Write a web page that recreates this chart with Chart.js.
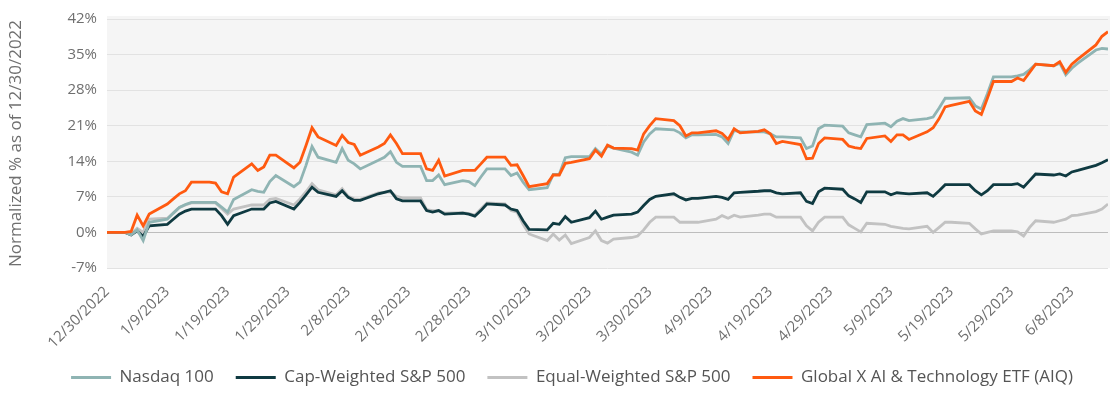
<!DOCTYPE html>
<html>
<head>
<meta charset="utf-8">
<script src="https://cdn.jsdelivr.net/npm/chart.js@4.4.1/dist/chart.umd.min.js"></script>
<style>
  html, body { margin: 0; padding: 0; background: #ffffff; }
  #wrap { width: 1113px; height: 402px; }
</style>
</head>
<body>
<div id="wrap"><canvas id="perf-chart" width="1113" height="402"></canvas></div>
<script>
// ================================================================
// Data: weekdays where the lines turn (holidays carry the prior close)
// ================================================================
const dates = [
    '12/30/2022', '1/2/2023', '1/3/2023', '1/4/2023', '1/5/2023', '1/6/2023',
    '1/9/2023', '1/10/2023', '1/11/2023', '1/12/2023', '1/13/2023',
    '1/16/2023', '1/17/2023', '1/18/2023', '1/19/2023', '1/20/2023',
    '1/23/2023', '1/24/2023', '1/25/2023', '1/26/2023', '1/27/2023',
    '1/30/2023', '1/31/2023', '2/1/2023', '2/2/2023', '2/3/2023',
    '2/6/2023', '2/7/2023', '2/8/2023', '2/9/2023', '2/10/2023',
    '2/13/2023', '2/14/2023', '2/15/2023', '2/16/2023', '2/17/2023',
    '2/20/2023', '2/21/2023', '2/22/2023', '2/23/2023', '2/24/2023',
    '2/27/2023', '2/28/2023', '3/1/2023', '3/2/2023', '3/3/2023',
    '3/6/2023', '3/7/2023', '3/8/2023', '3/9/2023', '3/10/2023',
    '3/13/2023', '3/14/2023', '3/15/2023', '3/16/2023', '3/17/2023',
    '3/20/2023', '3/21/2023', '3/22/2023', '3/23/2023', '3/24/2023',
    '3/27/2023', '3/28/2023', '3/29/2023', '3/30/2023', '3/31/2023',
    '4/3/2023', '4/4/2023', '4/5/2023', '4/6/2023', '4/7/2023',
    '4/10/2023', '4/11/2023', '4/12/2023', '4/13/2023', '4/14/2023',
    '4/17/2023', '4/18/2023', '4/19/2023', '4/20/2023', '4/21/2023',
    '4/24/2023', '4/25/2023', '4/26/2023', '4/27/2023', '4/28/2023',
    '5/1/2023', '5/2/2023', '5/3/2023', '5/4/2023', '5/5/2023',
    '5/8/2023', '5/9/2023', '5/10/2023', '5/11/2023', '5/12/2023',
    '5/15/2023', '5/16/2023', '5/17/2023', '5/18/2023', '5/19/2023',
    '5/22/2023', '5/23/2023', '5/24/2023', '5/25/2023', '5/26/2023',
    '5/29/2023', '5/30/2023', '5/31/2023', '6/1/2023', '6/2/2023',
    '6/5/2023', '6/6/2023', '6/7/2023', '6/8/2023', '6/9/2023',
    '6/12/2023', '6/13/2023', '6/14/2023'
];

const nasdaq100 = [
    0, 0, -0.5, 0.5, -1.6, 2.0,
    2.6, 3.8, 4.9, 5.5, 5.9,
    5.9, 5.9, 5.0, 4.0, 6.5,
    8.4, 8.1, 7.9, 10.0, 11.2,
    9.0, 9.9, 13.2, 16.9, 14.8,
    13.8, 16.5, 14.2, 13.5, 12.5,
    14.2, 14.8, 15.9, 13.8, 13.0,
    13.0, 10.2, 10.2, 11.3, 9.4,
    10.2, 10.0, 9.2, 10.9, 12.5,
    12.5, 11.2, 11.7, 9.9, 8.4,
    8.8, 11.4, 11.4, 14.7, 14.9,
    14.9, 16.5, 15.4, 17.0, 16.6,
    15.8, 15.2, 17.8, 19.4, 20.4,
    20.2, 19.6, 18.6, 19.2, 19.2,
    19.3, 18.8, 17.5, 20.1, 19.8,
    19.8, 19.8, 19.4, 18.8, 18.8,
    18.6, 16.5, 17.0, 20.4, 21.1,
    20.9, 19.6, 19.2, 18.8, 21.2,
    21.5, 20.8, 21.9, 22.4, 22.0,
    22.4, 22.7, 24.5, 26.4, 26.4,
    26.5, 24.9, 24.3, 27.3, 30.6,
    30.6, 30.8, 31.1, 32.0, 33.1,
    32.8, 33.3, 31.0, 32.3, 33.3,
    35.9, 36.2, 36.1
];

const capWeighted = [
    0, 0, -0.5, 0.3, -0.8, 1.3,
    1.6, 2.6, 3.6, 4.2, 4.6,
    4.6, 4.6, 3.3, 1.6, 3.3,
    4.6, 4.6, 4.6, 5.8, 6.1,
    4.6, 5.9, 7.4, 8.9, 7.9,
    7.1, 8.2, 6.9, 6.3, 6.3,
    7.6, 7.9, 8.2, 6.6, 6.2,
    6.2, 4.3, 4.0, 4.3, 3.6,
    3.8, 3.6, 3.2, 4.3, 5.6,
    5.4, 4.6, 4.3, 2.3, 0.6,
    0.5, 1.8, 1.6, 3.1, 2.0,
    2.9, 4.2, 2.6, 3.0, 3.4,
    3.6, 4.0, 5.3, 6.5, 7.1,
    7.6, 6.9, 6.4, 6.7, 6.7,
    7.1, 6.9, 6.5, 7.8, 7.9,
    8.1, 8.2, 8.2, 7.8, 7.6,
    7.8, 6.1, 5.7, 8.0, 8.7,
    8.5, 7.2, 6.6, 5.9, 8.0,
    8.0, 7.4, 7.8, 7.7, 7.6,
    7.8, 7.1, 8.2, 9.4, 9.4,
    9.4, 8.2, 7.4, 8.2, 9.4,
    9.4, 9.6, 8.9, 10.2, 11.5,
    11.3, 11.5, 11.1, 11.9, 12.2,
    13.2, 13.7, 14.3
];

const equalWeighted = [
    0, 0, -0.3, 0.8, 0.0, 2.6,
    2.8, 3.8, 4.9, 5.4, 5.8,
    5.8, 5.8, 4.7, 3.6, 4.6,
    5.4, 5.4, 5.4, 6.5, 6.7,
    5.4, 6.6, 8.0, 9.6, 8.4,
    7.4, 8.6, 7.1, 6.6, 6.5,
    7.8, 7.9, 8.0, 7.1, 6.8,
    6.8, 4.5, 4.3, 4.3, 3.8,
    3.9, 3.7, 3.4, 4.6, 5.8,
    5.6, 4.3, 4.0, 1.6, -0.3,
    -1.6, -0.3, -1.5, -0.5, -2.2,
    -1.0, 0.3, -1.6, -2.1, -1.3,
    -1.0, -0.7, 0.5, 2.0, 3.0,
    3.0, 2.0, 2.0, 2.0, 2.0,
    2.6, 3.3, 2.8, 3.4, 3.0,
    3.4, 3.6, 3.6, 3.0, 3.0,
    3.0, 1.3, 0.3, 2.0, 3.0,
    3.0, 1.5, 0.8, 0.1, 1.8,
    1.6, 1.2, 1.0, 0.8, 0.7,
    1.2, 0.0, 1.0, 2.0, 2.0,
    1.8, 0.7, -0.3, 0.0, 0.3,
    0.3, 0.1, -0.7, 1.0, 2.3,
    2.0, 2.3, 2.6, 3.3, 3.4,
    4.1, 4.6, 5.6
];

const aiqEtf = [
    0, 0, 0.2, 3.4, 1.3, 3.6,
    5.6, 6.6, 7.6, 8.2, 9.9,
    9.9, 9.7, 8.0, 7.6, 10.9,
    13.5, 12.2, 12.9, 15.2, 15.2,
    12.7, 13.8, 17.1, 20.6, 18.8,
    17.1, 19.1, 17.7, 17.3, 15.2,
    16.8, 17.5, 19.2, 17.5, 15.5,
    15.5, 12.5, 12.2, 14.2, 11.1,
    12.2, 12.2, 12.2, 13.5, 14.8,
    14.8, 13.2, 13.3, 11.2, 9.0,
    9.6, 11.3, 11.3, 13.6, 13.8,
    14.5, 16.2, 15.0, 17.2, 16.6,
    16.5, 16.2, 19.4, 21.0, 22.4,
    22.0, 21.0, 19.0, 19.6, 19.6,
    20.0, 19.5, 18.3, 20.4, 19.6,
    19.9, 20.2, 19.4, 17.5, 17.9,
    17.3, 14.5, 14.6, 17.5, 18.6,
    18.3, 17.0, 16.7, 16.5, 18.5,
    19.0, 17.9, 19.2, 19.2, 18.3,
    19.8, 20.6, 22.4, 24.7, 25.0,
    25.8, 23.9, 23.2, 26.4, 29.7,
    29.7, 30.4, 29.9, 31.5, 33.1,
    32.8, 33.6, 31.5, 33.1, 34.1,
    36.9, 38.6, 39.5
];

const seriesNames = [
    'Nasdaq 100',
    'Cap-Weighted S&P 500',
    'Equal-Weighted S&P 500',
    'Global X AI & Technology ETF (AIQ)'
];

const yTicks = [-7, 0, 7, 14, 21, 28, 35, 42];

// ================================================================
// Helpers
// ================================================================
const DAY_MS = 86400000;
const BASE_UTC = Date.UTC(2022, 11, 30);

function dayOffset(str) {
    const [m, d, y] = str.split('/').map(Number);
    return Math.round((Date.UTC(y, m - 1, d) - BASE_UTC) / DAY_MS);
}

function dayLabel(offset) {
    const dt = new Date(BASE_UTC + offset * DAY_MS);
    return (dt.getUTCMonth() + 1) + '/' + dt.getUTCDate() + '/' + dt.getUTCFullYear();
}

function toPoints(values) {
    return dates.map((d, i) => ({ x: dayOffset(d), y: values[i] }));
}

// gris claro detrás del área del gráfico
const plotBackground = {
    id: 'plotBackground',
    beforeDraw(chart) {
        const { ctx, chartArea } = chart;
        ctx.save();
        ctx.fillStyle = '#f5f5f5';
        ctx.fillRect(chartArea.left, chartArea.top - 3, chartArea.right - chartArea.left + 2, chartArea.bottom - chartArea.top + 3);
        ctx.restore();
    }
};

// the original legend sits a little right of the canvas centre
const legendNudge = {
    id: 'legendNudge',
    afterUpdate(chart) {
        if (!chart.legend) return;
        chart.legend.left += 18;
        chart.legend.right += 18;
    }
};

const FONT = '"Open Sans"';
const TEXT_GRAY = '#6f6f6f';

const ctx = document.getElementById('perf-chart').getContext('2d');
const lastDay = dayOffset(dates[dates.length - 1]);

new Chart(ctx, {
    type: 'line',
    data: {
        datasets: [
            { label: seriesNames[0], data: toPoints(nasdaq100), borderColor: '#8fb4b3', borderWidth: 2.8, order: 1 },
            { label: seriesNames[1], data: toPoints(capWeighted), borderColor: '#0f3a41', borderWidth: 2.8, order: 2 },
            { label: seriesNames[2], data: toPoints(equalWeighted), borderColor: '#c2c2c2', borderWidth: 2.8, order: 3 },
            { label: seriesNames[3], data: toPoints(aiqEtf), borderColor: '#ff5a10', borderWidth: 2.8, order: 0 }
        ].map(ds => Object.assign(ds, { pointRadius: 0, tension: 0, fill: false }))
    },
    options: {
        responsive: false,
        animation: false,
        layout: { padding: { top: 18, right: 5, bottom: 6, left: 0 } },
        plugins: {
            tooltip: { enabled: false },
            legend: {
                position: 'bottom',
                labels: {
                    usePointStyle: true,
                    pointStyle: 'line',
                    pointStyleWidth: 40,
                    padding: 22,
                    color: '#555555',
                    font: { family: FONT, size: 17 },
                    // keep the legend in dataset order, not drawing order
                    sort: (a, b) => a.datasetIndex - b.datasetIndex
                }
            }
        },
        scales: {
            x: {
                type: 'linear',
                min: 0,
                max: lastDay,
                grid: { display: false, drawTicks: false },
                border: { display: false },
                afterBuildTicks(scale) {
                    const ticks = [];
                    for (let d = 0; d <= lastDay; d += 10) ticks.push({ value: d });
                    scale.ticks = ticks;
                },
                afterFit(scale) { scale.height = 79; },
                ticks: {
                    minRotation: 45,
                    maxRotation: 45,
                    autoSkip: false,
                    padding: 15,
                    color: TEXT_GRAY,
                    font: { family: FONT, size: 15 },
                    callback: value => dayLabel(value)
                }
            },
            y: {
                min: yTicks[0],
                max: yTicks[yTicks.length - 1],
                afterBuildTicks(scale) {
                    scale.ticks = yTicks.map(v => ({ value: v }));
                },
                afterFit(scale) { scale.width = 107; },
                grid: {
                    drawTicks: false,
                    lineWidth: 1,
                    color: c => (c.tick && c.tick.value === 0) ? '#bdbdbd' : '#e2e2e2'
                },
                border: { display: false },
                ticks: {
                    padding: 10,
                    color: TEXT_GRAY,
                    font: { family: FONT, size: 15 },
                    callback: v => v + '%'
                },
                title: {
                    display: true,
                    text: 'Normalized % as of 12/30/2022',
                    color: TEXT_GRAY,
                    font: { family: FONT, size: 17 },
                    padding: { top: 6, bottom: 0 }
                }
            }
        }
    },
    plugins: [plotBackground, legendNudge]
});
</script>
</body>
</html>
